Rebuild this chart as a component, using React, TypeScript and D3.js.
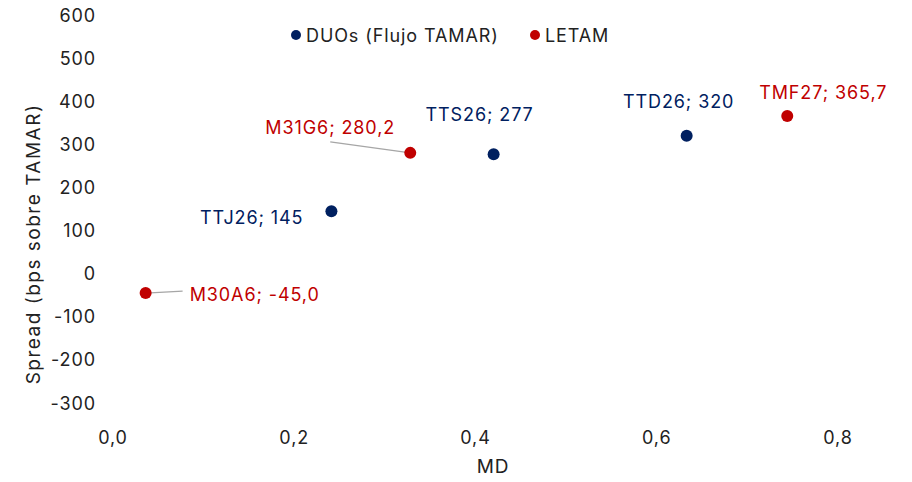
import { useEffect, useRef } from 'react';
import * as d3 from 'd3';

type Pt = { name: string; md: number; spread: number; group: string };

const groups = ['DUOs (Flujo TAMAR)', 'LETAM'];
const groupColors = ['#002060', '#C00000'];

const duoNames = ['TTJ26', 'TTS26', 'TTD26'];
const duoMD = [0.241, 0.42, 0.633];
const duoSpread = [145, 277, 320];

const letamNames = ['M30A6', 'M31G6', 'TMF27'];
const letamMD = [0.036, 0.328, 0.744];
const letamSpread = [-45.0, 280.2, 365.7];

const xTicks = [0, 0.2, 0.4, 0.6, 0.8];
const yTicks = [-300, -200, -100, 0, 100, 200, 300, 400, 500, 600];

// label placement relative to the point: dx, dy, anchor, leader line
const labelLayout: Record<string, { dx: number; dy: number; anchor: string; leader?: [number, number] }> = {
  TTJ26: { dx: -28, dy: 6, anchor: 'end' },
  TTS26: { dx: -14, dy: -40, anchor: 'middle' },
  TTD26: { dx: -8, dy: -34, anchor: 'middle' },
  TMF27: { dx: 36, dy: -24, anchor: 'middle' },
  M31G6: { dx: -80, dy: -25, anchor: 'middle', leader: [-80, -11] },
  M30A6: { dx: 44, dy: 1, anchor: 'start', leader: [37, -2] },
};

const fmt = (v: number, dec: number) => v.toFixed(dec).replace('.', ',');

export default function App() {
  const ref = useRef<SVGSVGElement | null>(null);

  useEffect(() => {
    if (!ref.current) return;
    const width = 912;
    const height = 482;
    const font = 'Inter, "Noto Sans", sans-serif';
    const fs = 18;
    const ls = 0.9;

    const svg = d3.select(ref.current);
    svg.selectAll('*').remove();

    const x = d3.scaleLinear().domain([0, 0.8]).range([113, 838]);
    const y = d3.scaleLinear().domain([-300, 600]).range([403, 15]);

    const points: Pt[] = [
      ...duoNames.map((n, i) => ({ name: n, md: duoMD[i], spread: duoSpread[i], group: groups[0] })),
      ...letamNames.map((n, i) => ({ name: n, md: letamMD[i], spread: letamSpread[i], group: groups[1] })),
    ];
    const color = d3.scaleOrdinal<string, string>().domain(groups).range(groupColors);

    svg.attr('width', width).attr('height', height).style('font-family', font).style('letter-spacing', `${ls}px`);

    // y ticks
    svg
      .append('g')
      .selectAll('text')
      .data(yTicks)
      .join('text')
      .attr('x', 96)
      .attr('y', d => y(d))
      .attr('text-anchor', 'end')
      .attr('dominant-baseline', 'central')
      .attr('font-size', fs)
      .attr('fill', '#222')
      .text(d => String(d));

    // x ticks
    svg
      .append('g')
      .selectAll('text')
      .data(xTicks)
      .join('text')
      .attr('x', d => x(d))
      .attr('y', 437)
      .attr('text-anchor', 'middle')
      .attr('dominant-baseline', 'central')
      .attr('font-size', fs)
      .attr('fill', '#222')
      .text(d => fmt(d, 1));

    svg
      .append('text')
      .attr('x', 493)
      .attr('y', 466)
      .attr('text-anchor', 'middle')
      .attr('dominant-baseline', 'central')
      .attr('font-size', 19)
      .attr('fill', '#222')
      .text('MD');

    svg
      .append('text')
      .attr('transform', 'translate(33,244) rotate(-90)')
      .attr('text-anchor', 'middle')
      .attr('dominant-baseline', 'central')
      .attr('font-size', 19)
      .style('letter-spacing', '1.5px')
      .attr('fill', '#222')
      .text('Spread (bps sobre TAMAR)');

    // leader lines
    svg
      .append('g')
      .selectAll('line')
      .data(points.filter(p => labelLayout[p.name].leader))
      .join('line')
      .attr('x1', d => x(d.md))
      .attr('y1', d => y(d.spread))
      .attr('x2', d => x(d.md) + labelLayout[d.name].leader![0])
      .attr('y2', d => y(d.spread) + labelLayout[d.name].leader![1])
      .attr('stroke', '#a6a6a6')
      .attr('stroke-width', 1.3);

    // points
    svg
      .append('g')
      .selectAll('circle')
      .data(points)
      .join('circle')
      .attr('cx', d => x(d.md))
      .attr('cy', d => y(d.spread))
      .attr('r', 6)
      .attr('fill', d => color(d.group));

    // data labels
    svg
      .append('g')
      .selectAll('text')
      .data(points)
      .join('text')
      .attr('x', d => x(d.md) + labelLayout[d.name].dx)
      .attr('y', d => y(d.spread) + labelLayout[d.name].dy)
      .attr('text-anchor', d => labelLayout[d.name].anchor)
      .attr('dominant-baseline', 'central')
      .attr('font-size', fs)
      .attr('fill', d => color(d.group))
      .text(d =>
        d.group === groups[0] ? `${d.name}; ${d.spread}` : `${d.name}; ${fmt(d.spread, 1)}`
      );

    // legend
    const legendX = [296, 535];
    const lg = svg
      .append('g')
      .selectAll('g')
      .data(groups)
      .join('g')
      .attr('transform', (_, i) => `translate(${legendX[i]},35)`);
    lg.append('circle').attr('r', 5).attr('fill', d => color(d));
    lg.append('text')
      .attr('x', 10)
      .attr('dominant-baseline', 'central')
      .attr('font-size', fs)
      .attr('fill', '#222')
      .text(d => d);
  }, []);

  return <svg ref={ref} style={{ display: 'block', position: 'absolute', left: 0, top: 0 }} />;
}
